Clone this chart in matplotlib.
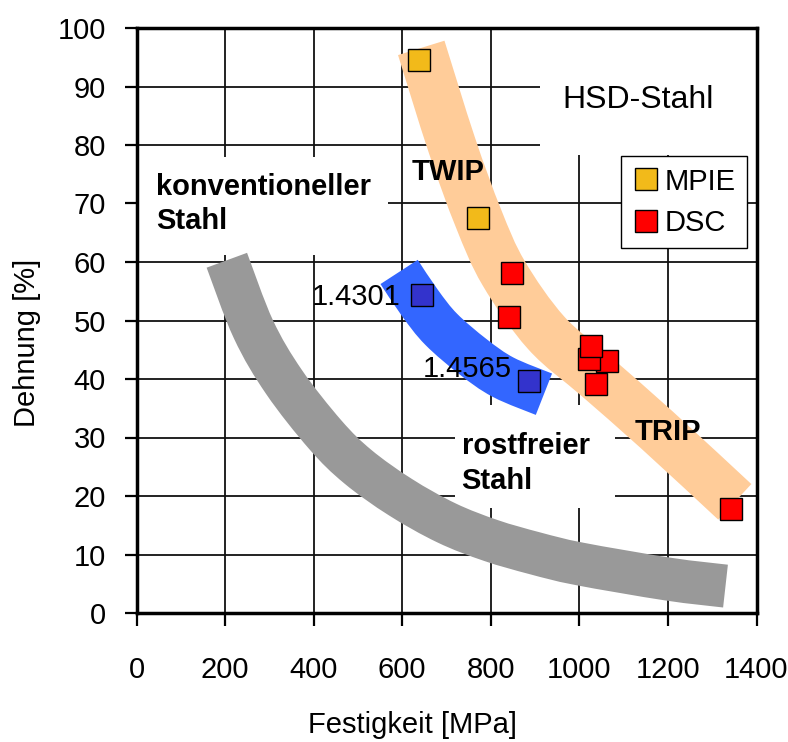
import matplotlib
matplotlib.use("Agg")
import matplotlib.pyplot as plt
from matplotlib.patches import Rectangle, PathPatch
from matplotlib.path import Path
from matplotlib.lines import Line2D

plt.rcParams['font.family'] = ['Liberation Sans', 'DejaVu Sans']

# ---- data ----
x_ticks = [0, 200, 400, 600, 800, 1000, 1200, 1400]
y_ticks = [0, 10, 20, 30, 40, 50, 60, 70, 80, 90, 100]

mpie_x = [637, 770]
mpie_y = [94.5, 67.5]

dsc_x = [847, 841, 1063, 1021, 1027, 1037, 1342]
dsc_y = [58.1, 50.6, 43.0, 43.4, 45.7, 39.1, 17.8]

steel_names = ['1.4301', '1.4565']
steel_x = [644, 887]
steel_y = [54.3, 39.6]

# band centre lines (hand-drawn regions)
gray_x = [204, 264, 333, 426, 500, 596, 700, 800, 900, 1000, 1200, 1330]
gray_y = [60.3, 48.5, 39.5, 30.5, 25.0, 19.8, 15.4, 12.4, 10.2, 8.4, 5.8, 4.6]

orange_x = [643, 712, 772, 829, 925, 1040, 1175, 1351]
orange_y = [96.6, 80.0, 67.5, 58.1, 47.9, 40.3, 31.3, 19.0]

blue_x = [593, 640, 688, 760, 828, 920]
blue_y = [58.3, 53.0, 48.5, 43.8, 40.3, 37.4]


def smooth_path(xs, ys):
    """Catmull-Rom curve through the given points, expressed as cubic Bezier path."""
    pts = list(zip(xs, ys))
    n = len(pts)
    verts = [pts[0]]
    codes = [Path.MOVETO]
    for i in range(n - 1):
        p0 = pts[i - 1] if i > 0 else pts[i]
        p1 = pts[i]
        p2 = pts[i + 1]
        p3 = pts[i + 2] if i + 2 < n else pts[i + 1]
        c1 = (p1[0] + (p2[0] - p0[0]) / 6, p1[1] + (p2[1] - p0[1]) / 6)
        c2 = (p2[0] - (p3[0] - p1[0]) / 6, p2[1] - (p3[1] - p1[1]) / 6)
        verts += [c1, c2, p2]
        codes += [Path.CURVE4] * 3
    return Path(verts, codes)


def band(ax, xs, ys, color, lw):
    patch = PathPatch(smooth_path(xs, ys), facecolor='none', edgecolor=color,
                      linewidth=lw, capstyle='butt', joinstyle='round', zorder=2)
    ax.add_patch(patch)


# ---- figure ----
fig = plt.figure(figsize=(7.88, 7.42), dpi=100)
ax = fig.add_axes([136.5/788, 1-613/742, 620/788, 585/742])
ax.set_xlim(0, 1400)
ax.set_ylim(0, 100)
ax.set_xticks(x_ticks)
ax.set_yticks(y_ticks)
ax.set_axisbelow(True)
ax.grid(True, color='#111111', linewidth=1.3)
for s in ax.spines.values():
    s.set_linewidth(2.5)
    s.set_color('black')
ax.tick_params(axis='both', direction='out', length=9, width=1.6, labelsize=21, colors='black')
ax.tick_params(axis='x', pad=22)
ax.tick_params(axis='y', pad=13)

ax.set_xlabel('Festigkeit [MPa]', fontsize=21)
ax.set_ylabel('Dehnung [%]', fontsize=21)
ax.xaxis.set_label_coords((413-136.5)/620, (613-711)/585)
ax.yaxis.set_label_coords((41-136.5)/620, (613-343)/585)

# white boxes behind labels
for (x0, x1, y0, y1) in [(3, 569, 61.2, 77.9), (911, 1400, 78.3, 100), (719, 1080, 17.9, 35.5)]:
    ax.add_patch(Rectangle((x0, y0), x1-x0, y1-y0, facecolor='white', edgecolor='none', zorder=1))

# bands
band(ax, gray_x, gray_y, '#999999', 31)
band(ax, orange_x, orange_y, '#FFCC99', 35)
band(ax, blue_x, blue_y, '#3366FF', 32)

# markers
ms = 16.5
ax.plot(mpie_x, mpie_y, 's', color='#F2BA1A', markeredgecolor='black', markersize=ms, markeredgewidth=1, zorder=3)
for x, y in zip(dsc_x, dsc_y):
    ax.plot([x], [y], 's', color='#FF0000', markeredgecolor='black', markersize=ms, markeredgewidth=1, zorder=3)
ax.plot(steel_x, steel_y, 's', color='#3333CC', markeredgecolor='black', markersize=ms, markeredgewidth=1, zorder=3)

# texts
ax.text(44, 71.5, 'konventioneller', fontsize=21, fontweight='bold', ha='left', va='baseline', zorder=4)
ax.text(44, 65.6, 'Stahl', fontsize=21, fontweight='bold', ha='left', va='baseline', zorder=4)
ax.text(621, 74.0, 'TWIP', fontsize=21, fontweight='bold', ha='left', va='baseline', zorder=4)
ax.text(962, 86.4, 'HSD-Stahl', fontsize=23, ha='left', va='baseline', zorder=4)
ax.text(595, 52.6, steel_names[0], fontsize=21, ha='right', va='baseline', zorder=4)
ax.text(847, 40.3, steel_names[1], fontsize=21, ha='right', va='baseline', zorder=4)
ax.text(734, 27.2, 'rostfreier', fontsize=21, fontweight='bold', ha='left', va='baseline', zorder=4)
ax.text(734, 21.2, 'Stahl', fontsize=21, fontweight='bold', ha='left', va='baseline', zorder=4)
ax.text(1125, 29.6, 'TRIP', fontsize=21, fontweight='bold', ha='left', va='baseline', zorder=4)

# legend
handles = [Line2D([], [], marker='s', linestyle='none', color='#F2BA1A', markeredgecolor='black', markersize=ms, markeredgewidth=1),
           Line2D([], [], marker='s', linestyle='none', color='#FF0000', markeredgecolor='black', markersize=ms, markeredgewidth=1)]
leg = ax.legend(handles, ['MPIE', 'DSC'], loc='upper right',
                bbox_to_anchor=((747.3-136.5)/620, (613-156)/585),
                borderaxespad=0, fontsize=21, frameon=True, fancybox=False,
                edgecolor='black', framealpha=1, borderpad=0.4, labelspacing=0.45,
                handlelength=0.9, handletextpad=0.2)
leg.get_frame().set_linewidth(1.0)
leg.set_zorder(5)

fig.savefig('out.png', dpi=100)
